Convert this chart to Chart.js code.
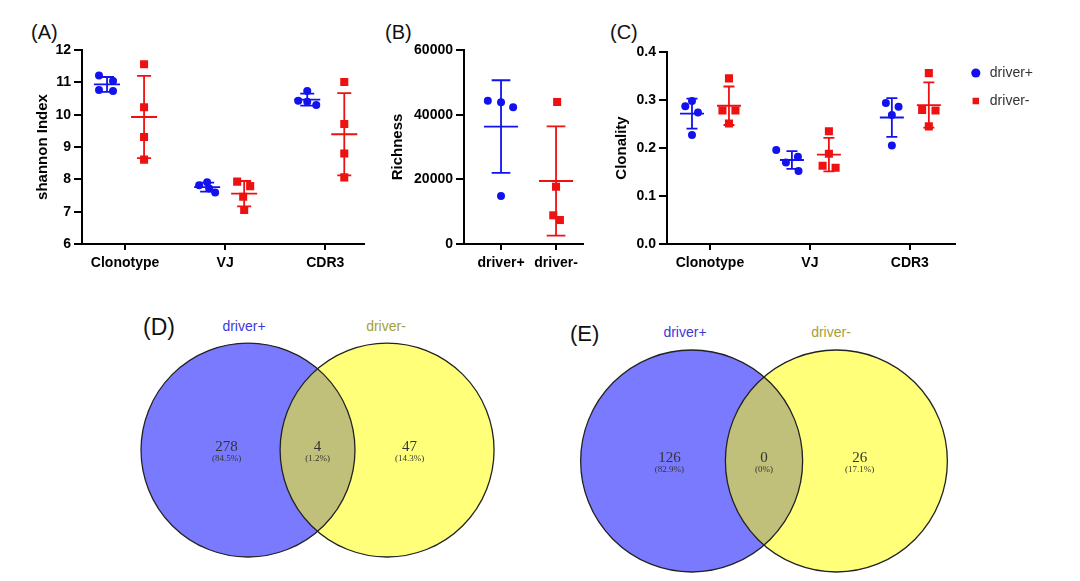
<!DOCTYPE html>
<html lang="en">
<head>
<meta charset="UTF-8">
<title>driver+ / driver- repertoire</title>
<script src="https://cdn.jsdelivr.net/npm/chart.js@4"></script>
<style>
  * { margin: 0; padding: 0; box-sizing: border-box; }
  body {
    width: 1080px;
    height: 581px;
    position: relative;
    overflow: hidden;
    background: #fff;
    font-family: "Liberation Sans", Arial, sans-serif;
  }
  canvas { position: absolute; }
  .tag { position: absolute; font-size: 20px; line-height: 1; color: #111; }
  .set { position: absolute; font-size: 14px; line-height: 1; transform: translateX(-50%); white-space: nowrap; }
  .plus { color: #3a3ad8; }
  .minus { color: #a3a039; }
</style>
</head>
<body>
<div class="tag" style="left:31px;top:22px">(A)</div>
<div class="tag" style="left:385px;top:22px">(B)</div>
<div class="tag" style="left:610px;top:22px">(C)</div>
<div class="tag" style="left:143px;top:316px;font-size:23px">(D)</div>
<div class="tag" style="left:570px;top:323px;font-size:22px">(E)</div>
<div class="set plus" style="left:244px;top:319px">driver+</div>
<div class="set minus" style="left:386px;top:319px">driver-</div>
<div class="set plus" style="left:685px;top:325px">driver+</div>
<div class="set minus" style="left:831px;top:325px">driver-</div>

<canvas id="shannon" width="370" height="285" style="left:0;top:0"></canvas>
<canvas id="richness" width="225" height="285" style="left:370px;top:0"></canvas>
<canvas id="clonality" width="490" height="285" style="left:590px;top:0"></canvas>
<canvas id="vennD" width="380" height="281" style="left:130px;top:300px"></canvas>
<canvas id="vennE" width="420" height="281" style="left:560px;top:300px"></canvas>

<script>
// ---- data ----
const categories = ['Clonotype', 'VJ', 'CDR3'];
const groupNames = ['driver+', 'driver-'];

// shannon index, one row per category, 4 samples each
const shannonPos = [[11.21, 11.04, 10.76, 10.73], [7.82, 7.91, 7.72, 7.59], [10.73, 10.43, 10.40, 10.30]];
const shannonNeg = [[11.56, 10.23, 9.31, 8.61], [7.93, 7.79, 7.46, 7.05], [11.01, 9.71, 8.80, 8.06]];
const shannonJitPos = [[-0.08, 0.06, -0.08, 0.06], [-0.08, 0, 0.02, 0.08], [0, -0.09, 0, 0.09]];
const shannonJitNeg = [[0, 0, 0, 0], [-0.07, 0.06, -0.01, 0], [0, 0, 0, 0]];

const richnessPos = [44320, 43820, 42270, 14850];
const richnessNeg = [43920, 17720, 8870, 7420];
const richnessJitPos = [-0.24, 0, 0.22, 0];
const richnessJitNeg = [0.02, 0, -0.05, 0.07];

const clonalityPos = [[0.287, 0.298, 0.274, 0.227], [0.196, 0.170, 0.182, 0.152], [0.294, 0.286, 0.269, 0.205]];
const clonalityNeg = [[0.345, 0.278, 0.278, 0.251], [0.235, 0.188, 0.163, 0.159], [0.356, 0.279, 0.278, 0.245]];
const clonalityJitPos = [[-0.067, 0, 0.06, 0], [-0.157, -0.06, 0.06, 0.066], [-0.06, 0.067, 0, 0]];
const clonalityJitNeg = [[0, -0.065, 0.065, 0], [0, 0, -0.063, 0.067], [0, -0.067, 0.067, 0]];

// venn counts: only driver+, shared, only driver-
const vennDCounts = [278, 4, 47];
const vennECounts = [126, 0, 26];

const BLUE = '#1212ee';
const RED = '#ee1111';

Chart.defaults.font.family = '"Liberation Sans", Arial, sans-serif';
Chart.defaults.color = '#000';
Chart.defaults.animation = false;

const mean = a => a.reduce((s, v) => s + v, 0) / a.length;
const sd = a => {
  const m = mean(a);
  return Math.sqrt(a.reduce((s, v) => s + (v - m) ** 2, 0) / (a.length - 1));
};

const boldFont = { size: 14, weight: 'bold' };
const titleFont = { size: 15, weight: 'bold' };

function dotPlot(id, cfg) {
  const datasets = [];
  cfg.groups.forEach(g => {
    const pts = [];
    g.values.forEach((vals, i) => vals.forEach((v, k) => {
      pts.push({ x: g.cats[i] + g.shift + g.jitter[i][k], y: v });
    }));
    datasets.push({
      label: g.name, data: pts, pointStyle: g.style, pointRadius: g.radius,
      backgroundColor: g.color, borderColor: g.color, borderWidth: 0, order: 0
    });
  });
  // mean line + SD whiskers drawn as broken line segments
  cfg.groups.forEach(g => {
    const seg = [];
    g.values.forEach((vals, i) => {
      const c = g.cats[i] + g.shift, m = mean(vals), s = sd(vals);
      const w = cfg.meanW, k = cfg.capW;
      const gap = { x: c, y: null };
      seg.push({ x: c - w, y: m }, { x: c + w, y: m }, gap,
               { x: c, y: m - s }, { x: c, y: m + s }, gap,
               { x: c - k, y: m + s }, { x: c + k, y: m + s }, gap,
               { x: c - k, y: m - s }, { x: c + k, y: m - s }, gap);
    });
    datasets.push({
      label: g.name + ' mean ± SD', data: seg, showLine: true, spanGaps: false,
      borderColor: g.color, borderWidth: 1.8, pointRadius: 0, order: 1
    });
  });

  const axisGrid = { drawOnChartArea: false, drawTicks: true, color: '#000', lineWidth: 2 };
  new Chart(document.getElementById(id), {
    type: 'scatter',
    data: { datasets },
    options: {
      responsive: false,
      events: [],
      layout: { padding: cfg.padding },
      plugins: {
        tooltip: { enabled: false },
        legend: cfg.legend || { display: false }
      },
      scales: {
        x: {
          min: cfg.xMin, max: cfg.xMax,
          afterBuildTicks: s => { s.ticks = cfg.cats.map((c, i) => ({ value: i })); },
          afterFit: s => { s.height = 30; },
          ticks: { callback: v => cfg.cats[v], font: boldFont, color: '#000', padding: 5, autoSkip: false, maxRotation: 0 },
          grid: { ...axisGrid, tickLength: 6 },
          border: { color: '#000', width: 2 }
        },
        y: {
          min: cfg.yMin, max: cfg.yMax,
          afterFit: s => { s.width = cfg.yWidth; },
          ticks: { stepSize: cfg.yStep, callback: cfg.yFmt, font: boldFont, color: '#000', padding: 3 },
          grid: { ...axisGrid, tickLength: 8 },
          border: { color: '#000', width: 2 },
          title: { display: true, text: cfg.title, font: titleFont, color: '#000', padding: { top: cfg.titlePad, bottom: 0 } }
        }
      }
    }
  });
}

dotPlot('shannon', {
  cats: categories, xMin: -0.43, xMax: 2.39, yMin: 6, yMax: 12, yStep: 1, yFmt: v => String(v),
  yWidth: 82, title: 'shannon Index', titlePad: 34, meanW: 0.13, capW: 0.07,
  padding: { top: 50, right: 5, bottom: 11, left: 0 },
  groups: [
    { name: groupNames[0], cats: [0, 1, 2], values: shannonPos, jitter: shannonJitPos, shift: -0.18, color: BLUE, style: 'circle', radius: 4 },
    { name: groupNames[1], cats: [0, 1, 2], values: shannonNeg, jitter: shannonJitNeg, shift: 0.19, color: RED, style: 'rect', radius: 5.7 }
  ]
});

dotPlot('richness', {
  cats: groupNames, xMin: -0.673, xMax: 1.49, yMin: 0, yMax: 60000, yStep: 20000, yFmt: v => String(v),
  yWidth: 94, title: 'Richness', titlePad: 19, meanW: 0.31, capW: 0.17,
  padding: { top: 50, right: 12, bottom: 11, left: 0 },
  groups: [
    { name: groupNames[0], cats: [0], values: [richnessPos], jitter: [richnessJitPos], shift: 0, color: BLUE, style: 'circle', radius: 4 },
    { name: groupNames[1], cats: [1], values: [richnessNeg], jitter: [richnessJitNeg], shift: 0, color: RED, style: 'rect', radius: 5.7 }
  ]
});

dotPlot('clonality', {
  cats: categories, xMin: -0.43, xMax: 2.45, yMin: 0, yMax: 0.4, yStep: 0.1, yFmt: v => v.toFixed(1),
  yWidth: 77, title: 'Clonality', titlePad: 23, meanW: 0.12, capW: 0.055,
  padding: { top: 52, right: 37, bottom: 11, left: 0 },
  legend: {
    display: true, position: 'right', align: 'start',
    labels: {
      usePointStyle: true, boxWidth: 14, boxHeight: 6.5, padding: 14,
      font: { size: 14 }, color: '#333',
      filter: item => item.datasetIndex < 2
    }
  },
  groups: [
    { name: groupNames[0], cats: [0, 1, 2], values: clonalityPos, jitter: clonalityJitPos, shift: -0.18, color: BLUE, style: 'circle', radius: 4 },
    { name: groupNames[1], cats: [0, 1, 2], values: clonalityNeg, jitter: clonalityJitNeg, shift: 0.19, color: RED, style: 'rect', radius: 5.7 }
  ]
});

// ---- venn diagrams ----
const vennText = {
  id: 'vennText',
  afterDatasetsDraw(chart, args, opts) {
    const { ctx, scales: { x, y } } = chart;
    const total = opts.counts.reduce((s, v) => s + v, 0);
    ctx.save();
    ctx.textAlign = 'center';
    ctx.textBaseline = 'alphabetic';
    ctx.fillStyle = '#333';
    opts.counts.forEach((n, i) => {
      const px = x.getPixelForValue(opts.xs[i]);
      const py = y.getPixelForValue(0);
      const pct = n === 0 ? '0%' : (n / total * 100).toFixed(1) + '%';
      ctx.font = '15px "Liberation Serif", serif';
      ctx.fillText(String(n), px, py + 1);
      ctx.font = '9px "Liberation Serif", serif';
      ctx.fillText('(' + pct + ')', px, py + 11);
    });
    ctx.restore();
  }
};

function venn(id, counts, cfg) {
  const r = c => { const s = c.chart.scales.x; return s.getPixelForValue(1) - s.getPixelForValue(0); };
  const centers = [{ x: 0, y: 0 }, { x: cfg.dist, y: 0 }];
  new Chart(document.getElementById(id), {
    type: 'scatter',
    data: {
      datasets: [
        { label: 'outline', data: centers, backgroundColor: 'rgba(0,0,0,0)', borderColor: '#222', borderWidth: 1.3, pointRadius: r, order: 0 },
        { label: groupNames[1], data: [centers[1]], backgroundColor: 'rgba(255,255,0,0.52)', borderWidth: 0, pointRadius: r, order: 1 },
        { label: groupNames[0], data: [centers[0]], backgroundColor: 'rgba(0,0,255,0.52)', borderWidth: 0, pointRadius: r, order: 2 }
      ]
    },
    options: {
      responsive: false,
      events: [],
      layout: { padding: 0 },
      plugins: {
        legend: { display: false },
        tooltip: { enabled: false },
        vennText: { counts, xs: [-0.2, cfg.dist / 2, cfg.dist + 0.21] }
      },
      scales: {
        x: { display: false, min: cfg.xMin, max: cfg.xMax },
        y: { display: false, min: cfg.yMin, max: cfg.yMax }
      }
    },
    plugins: [vennText]
  });
}

venn('vennD', vennDCounts, { dist: 1.3, xMin: -1.103, xMax: 2.449, yMin: -1.224, yMax: 1.402 });
venn('vennE', vennECounts, { dist: 1.304, xMin: -1.186, xMax: 2.598, yMin: -1.081, yMax: 1.450 });
</script>
</body>
</html>
